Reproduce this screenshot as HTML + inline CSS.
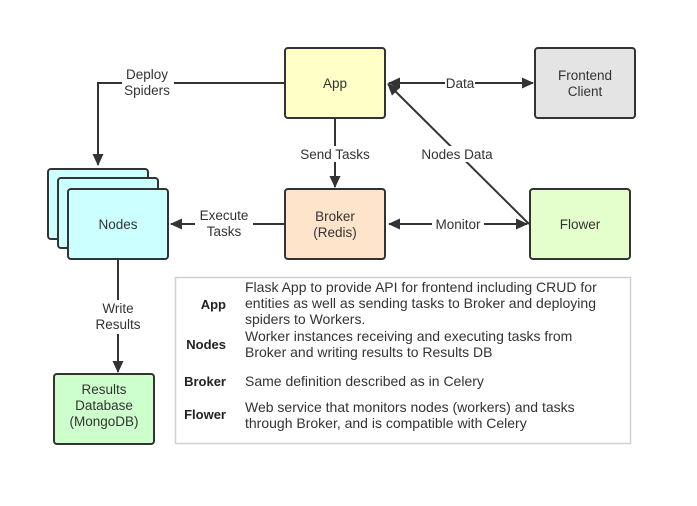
<!DOCTYPE html>
<html><head><meta charset="utf-8"><style>
html,body{margin:0;padding:0;background:#fff;}
svg{display:block;font-family:"Liberation Sans",sans-serif;}
</style></head><body>
<svg width="697" height="506" viewBox="0 0 697 506" xmlns="http://www.w3.org/2000/svg">
<defs>
<marker id="a" markerWidth="12" markerHeight="11" refX="11" refY="5.5" orient="auto" markerUnits="userSpaceOnUse" viewBox="0 0 12 11">
<path d="M0,0 L12,5.5 L0,11 z" fill="#333"/></marker>
<marker id="s" markerWidth="12" markerHeight="11" refX="1" refY="5.5" orient="auto" markerUnits="userSpaceOnUse" viewBox="0 0 12 11">
<path d="M12,0 L0,5.5 L12,11 z" fill="#333"/></marker>
</defs>
<g stroke="#333" stroke-width="2" fill="none">
<polyline points="285,83 98,83 98,165" marker-end="url(#a)"/>
<line x1="335" y1="118" x2="335" y2="187" marker-end="url(#a)"/>
<line x1="285" y1="224" x2="171" y2="224" marker-end="url(#a)"/>
<line x1="389" y1="83" x2="533" y2="83" marker-start="url(#s)" marker-end="url(#a)"/>
<line x1="389" y1="224" x2="527" y2="224" marker-start="url(#s)" marker-end="url(#a)"/>
<line x1="529" y1="224" x2="388" y2="84" marker-end="url(#a)"/>
<line x1="118" y1="259" x2="118" y2="372" marker-end="url(#a)"/>
</g>
<g fill="#fff">
<rect x="122" y="66" width="52" height="34"/>
<rect x="298" y="146" width="74" height="16"/>
<rect x="195" y="207" width="58" height="34"/>
<rect x="445" y="75" width="30" height="16"/>
<rect x="432" y="216" width="52" height="16"/>
<rect x="418" y="146" width="78" height="16"/>
<rect x="94" y="300" width="50" height="34"/>
</g>
<g stroke="#333" stroke-width="2">
<rect x="285" y="48" width="100" height="70" rx="3" fill="#ffffc8"/>
<rect x="535" y="48" width="100" height="70" rx="3" fill="#e4e4e4"/>
<rect x="48" y="169" width="100" height="70" rx="3" fill="#ccffff"/>
<rect x="58" y="178" width="100" height="70" rx="3" fill="#ccffff"/>
<rect x="68" y="189" width="100" height="70" rx="3" fill="#ccffff"/>
<rect x="285" y="189" width="100" height="70" rx="3" fill="#ffe4cc"/>
<rect x="530" y="189" width="100" height="70" rx="3" fill="#e4ffcc"/>
<rect x="54" y="374" width="100" height="70" rx="3" fill="#ccffcc"/>
</g>
<rect x="175.5" y="277.5" width="455" height="166" fill="#fff" stroke="#d0d0d0" stroke-width="1.5"/>
<g font-size="13.5" fill="#333" text-anchor="middle">
<text x="335" y="88">App</text>
<text x="585" y="80">Frontend</text><text x="585" y="96">Client</text>
<text x="118" y="229">Nodes</text>
<text x="335" y="221">Broker</text><text x="335" y="237">(Redis)</text>
<text x="580" y="229">Flower</text>
<text x="104" y="394">Results</text><text x="104" y="410">Database</text><text x="104" y="426">(MongoDB)</text>
<text x="147" y="79">Deploy</text><text x="147" y="95">Spiders</text>
<text x="335" y="159">Send Tasks</text>
<text x="224" y="220">Execute</text><text x="224" y="236">Tasks</text>
<text x="460" y="88">Data</text>
<text x="458" y="229">Monitor</text>
<text x="457" y="159">Nodes Data</text>
<text x="118" y="313">Write</text><text x="118" y="329">Results</text>
</g>
<g font-size="13" fill="#222" font-weight="bold" text-anchor="end">
<text x="226" y="309">App</text>
<text x="226" y="349">Nodes</text>
<text x="226" y="386">Broker</text>
<text x="226" y="419">Flower</text>
</g>
<g font-size="14" fill="#333">
<text x="245" y="292">Flask App to provide API for frontend including CRUD for</text>
<text x="245" y="308">entities as well as sending tasks to Broker and deploying</text>
<text x="245" y="324">spiders to Workers.</text>
<text x="245" y="341">Worker instances receiving and executing tasks from</text>
<text x="245" y="357">Broker and writing results to Results DB</text>
<text x="245" y="386">Same definition described as in Celery</text>
<text x="245" y="412">Web service that monitors nodes (workers) and tasks</text>
<text x="245" y="428">through Broker, and is compatible with Celery</text>
</g>
</svg>
</body></html>
